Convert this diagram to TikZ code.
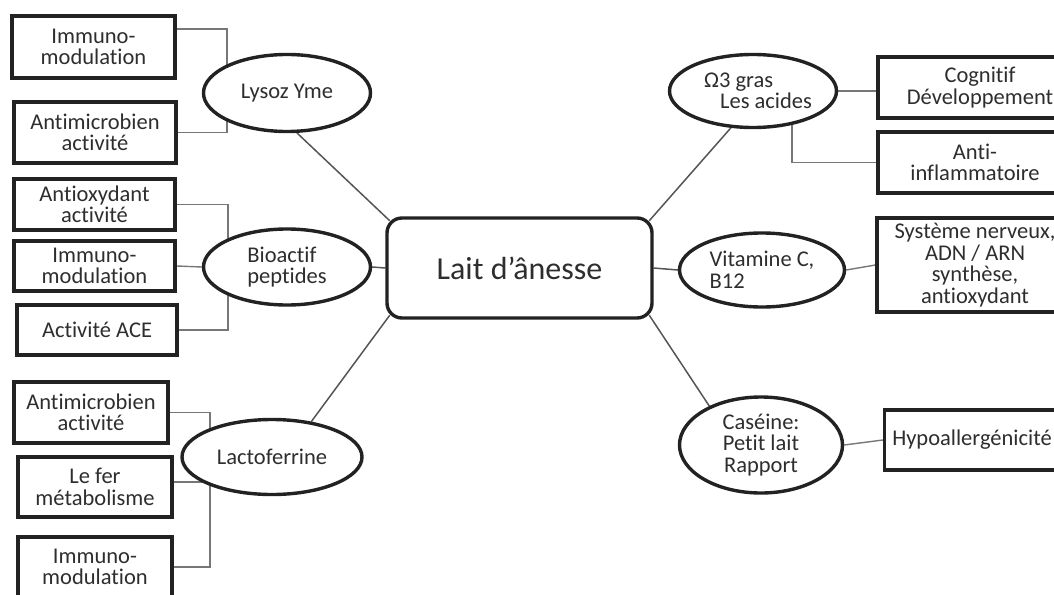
\documentclass[tikz,border=0pt]{standalone}
\usepackage{fontspec}
\setmainfont{Carlito}[Ligatures=NoCommon]
\usetikzlibrary{shapes.geometric,backgrounds}
\definecolor{inkgray}{HTML}{2E2E2E}
\definecolor{edgegray}{HTML}{222222}
\definecolor{linkgray}{HTML}{555555}
\definecolor{bargray}{HTML}{777777}

\begin{document}
\begin{tikzpicture}[x=1pt,y=-1pt,
    every node/.style={text=inkgray, inner sep=0pt, align=center,
                       font=\fontsize{22.5}{21.5}\selectfont},
    infobox/.style={draw=edgegray, line width=3.2pt, fill=white, rectangle},
    topic/.style={draw=edgegray, line width=3.4pt, fill=white, ellipse},
    spoke/.style={draw=linkgray, line width=1.5pt},
    branch/.style={draw=bargray, line width=1.4pt}]
  \useasboundingbox (0,0) rectangle (1054,594);
  \clip (0,0) rectangle (1054,594);

  % centre
  \node[draw=edgegray, line width=3.4pt, rounded corners=15pt, fill=white,
        minimum width=265, minimum height=100,
        font=\fontsize{32}{33}\selectfont] (milk) at (519.5,268) {Lait d{\char"27}ânesse};

  % left topics
  \node[topic, minimum width=167, minimum height=77] (lys) at (287,93) {Lysoz Yme};
  \node[topic, minimum width=167, minimum height=76, align=left] (bio) at (287,267) {Bioactif\\peptides};
  \node[topic, minimum width=180, minimum height=75] (lac) at (272,457) {Lactoferrine};

  % right topics
  \node[topic, minimum width=167, minimum height=73, align=left] (omega) at (753,91)
       {\hspace*{10pt}Ω3 gras\\\hspace*{26pt}Les acides};
  \node[topic, minimum width=165, minimum height=74, align=left] (vit) at (762,270) {Vitamine C,\\B12};
  \node[topic, minimum width=163, minimum height=96] (cas) at (761,445) {Caséine:\\Petit lait\\Rapport};

  % left boxes
  \node[infobox, minimum width=163, minimum height=62] (imm1) at (93.5,47) {Immuno-\\modulation};
  \node[infobox, minimum width=162, minimum height=61] (anti1) at (95,132.5) {Antimicrobien\\activité};
  \node[infobox, minimum width=161, minimum height=51] (antiox) at (94.5,204.5) {Antioxydant\\activité};
  \node[infobox, minimum width=161, minimum height=50] (imm2) at (94.5,266) {Immuno-\\modulation};
  \node[infobox, minimum width=160, minimum height=50] (ace) at (97,330) {Activité ACE};
  \node[infobox, minimum width=154, minimum height=61] (anti3) at (91,412.5) {Antimicrobien\\activité};
  \node[infobox, minimum width=154, minimum height=60] (fer) at (95,487) {Le fer\\métabolisme};
  \node[infobox, minimum width=154, minimum height=60] (imm3) at (95,567) {Immuno-\\modulation};

  % right boxes
  \node[infobox, minimum width=204, minimum height=61] (cog) at (980,87.5) {Cognitif\\Développement};
  \node[infobox, minimum width=194, minimum height=61] (infl) at (975,162.5) {Anti-\\inflammatoire};
  \node[infobox, minimum width=196, minimum height=94] (sys) at (975,265)
       {Système nerveux,\\ADN / ARN\\synthèse,\\antioxydant};
  \node[infobox, minimum width=175, minimum height=60] (hypo) at (972,440) {Hypoallergénicité};

  \coordinate (lysbar) at (227,0);
  \coordinate (biobar) at (228,0);
  \coordinate (lacbar) at (210,0);

  \begin{scope}[on background layer]
    % spokes to the centre
    \draw[spoke] (lys.-76) -- ([shift={(4.4,4.4)}]milk.north west);
    \draw[spoke] (bio.east) -- (milk.west);
    \draw[spoke] (lac.42) -- ([shift={(4.4,-4.4)}]milk.south west);
    \draw[spoke] (omega.-121) -- ([shift={(-4.4,4.4)}]milk.north east);
    \draw[spoke] (vit.west) -- (milk.east);
    \draw[spoke] (cas.143) -- ([shift={(-4.4,-4.4)}]milk.south east);

    % branches
    \draw[branch] (imm1.east |- 0,29) -| (lysbar |- anti1.east) -- (anti1.east);
    \draw[branch] (antiox.east) -| (biobar |- ace.east) -- (ace.east);
    \draw[branch] (imm2.east) -- (bio.west);
    \draw[branch] (anti3.east) -| (lacbar |- imm3.east) -- (imm3.east);
    \draw[branch] (fer.east |- 0,482) -- (lacbar |- 0,482);
    \draw[branch] (omega.east) -- (cog.west |- omega.east);
    \draw[branch] ([xshift=39pt]omega.center) |- (infl.west);
    \draw[branch] (vit.east) -- (sys.west);
    \draw[branch] (cas.east) -- (hypo.west);
  \end{scope}
\end{tikzpicture}
\end{document}
